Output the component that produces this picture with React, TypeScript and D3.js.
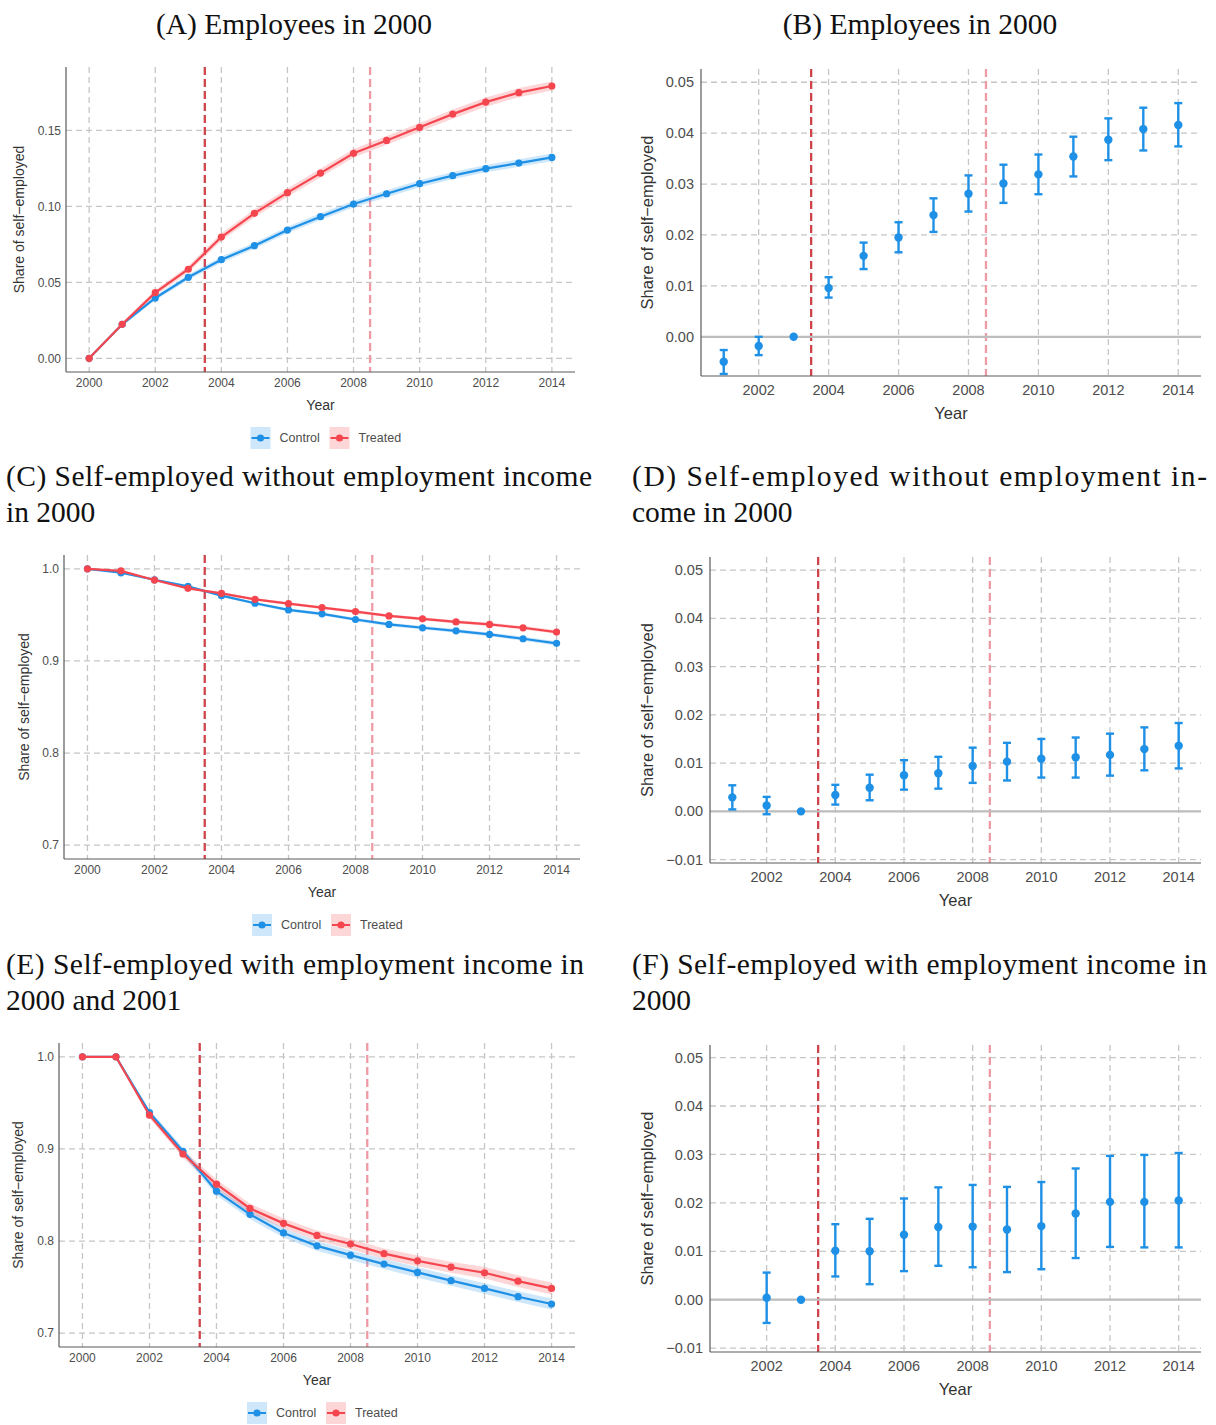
import React from 'react';
import * as d3 from 'd3';

// years on the x axis
const YEARS = [2000, 2001, 2002, 2003, 2004, 2005, 2006, 2007, 2008, 2009, 2010, 2011, 2012, 2013, 2014];
const EVENT_YEARS = [2001, 2002, 2003, 2004, 2005, 2006, 2007, 2008, 2009, 2010, 2011, 2012, 2013, 2014];
const F_YEARS = [2002, 2003, 2004, 2005, 2006, 2007, 2008, 2009, 2010, 2011, 2012, 2013, 2014];
const REFORM_LINES = [2003.5, 2008.5];

// (A) Employees in 2000 - raw shares
const aControl = [0, 0.0224, 0.0397, 0.0533, 0.0649, 0.0741, 0.0844, 0.0932, 0.1015, 0.1083, 0.1149, 0.1202, 0.1248, 0.1285, 0.1322];
const aTreated = [0, 0.0224, 0.0432, 0.0586, 0.0798, 0.0954, 0.109, 0.1219, 0.1349, 0.1434, 0.152, 0.1607, 0.1686, 0.1748, 0.1792];
const aControlBand = [0, 0.001, 0.0015, 0.0018, 0.002, 0.002, 0.0021, 0.0022, 0.0022, 0.0023, 0.0023, 0.0024, 0.0024, 0.0025, 0.0025];
const aTreatedBand = [0, 0.0012, 0.0018, 0.0021, 0.0025, 0.0026, 0.0027, 0.0028, 0.0028, 0.0029, 0.0029, 0.003, 0.003, 0.003, 0.003];

// (C) Self-employed without employment income in 2000
const cControl = [1, 0.9957, 0.9881, 0.9809, 0.9709, 0.9626, 0.9554, 0.9511, 0.945, 0.9396, 0.936, 0.9327, 0.9288, 0.9241, 0.9191];
const cTreated = [1, 0.9978, 0.9878, 0.9788, 0.9734, 0.9669, 0.9622, 0.9579, 0.9536, 0.9489, 0.9457, 0.9424, 0.9396, 0.936, 0.9313];
const cControlBand = [0, 0.0008, 0.001, 0.0012, 0.0014, 0.0015, 0.0016, 0.0017, 0.0018, 0.0019, 0.002, 0.002, 0.0021, 0.0022, 0.0023];
const cTreatedBand = [0, 0.0007, 0.0009, 0.0011, 0.0012, 0.0013, 0.0014, 0.0015, 0.0016, 0.0016, 0.0017, 0.0017, 0.0018, 0.0018, 0.0019];

// (E) Self-employed with employment income in 2000 and 2001
const eControl = [1, 1, 0.9395, 0.8974, 0.8542, 0.829, 0.8088, 0.7948, 0.7847, 0.775, 0.766, 0.757, 0.7486, 0.7396, 0.7317];
const eTreated = [1, 1, 0.9366, 0.8945, 0.8617, 0.8354, 0.8192, 0.8061, 0.7968, 0.7863, 0.7785, 0.7716, 0.7656, 0.7565, 0.7486];
const eControlBand = [0, 0, 0.003, 0.004, 0.0045, 0.005, 0.005, 0.0052, 0.0053, 0.0054, 0.0055, 0.0056, 0.0057, 0.0058, 0.006];
const eTreatedBand = [0, 0, 0.003, 0.004, 0.005, 0.0052, 0.0054, 0.0055, 0.0056, 0.0057, 0.0058, 0.006, 0.0062, 0.0063, 0.0065];

// (B) event study, employees
const bEst = [-0.0049, -0.0018, 0, 0.0096, 0.0159, 0.0195, 0.0239, 0.0281, 0.0301, 0.0319, 0.0354, 0.0387, 0.0408, 0.0416];
const bLo = [-0.0073, -0.0036, 0, 0.0077, 0.0133, 0.0166, 0.0206, 0.0246, 0.0263, 0.028, 0.0315, 0.0347, 0.0366, 0.0374];
const bHi = [-0.0026, 0, 0, 0.0117, 0.0185, 0.0225, 0.0272, 0.0317, 0.0338, 0.0358, 0.0393, 0.0429, 0.045, 0.0459];

// (D) event study, without employment income
const dEst = [0.0029, 0.0012, 0, 0.0034, 0.0049, 0.0075, 0.0079, 0.0094, 0.0103, 0.0109, 0.0112, 0.0117, 0.0129, 0.0136];
const dLo = [0.0004, -0.0006, 0, 0.0014, 0.0023, 0.0045, 0.0047, 0.0059, 0.0064, 0.007, 0.007, 0.0074, 0.0085, 0.0089];
const dHi = [0.0054, 0.003, 0, 0.0055, 0.0076, 0.0106, 0.0113, 0.0132, 0.0142, 0.015, 0.0153, 0.0161, 0.0174, 0.0183];

// (F) event study, with employment income
const fEst = [0.0004, 0, 0.0101, 0.01, 0.0134, 0.015, 0.0151, 0.0145, 0.0152, 0.0178, 0.0202, 0.0202, 0.0205];
const fLo = [-0.0048, 0, 0.0048, 0.0032, 0.0059, 0.007, 0.0067, 0.0057, 0.0063, 0.0086, 0.0109, 0.0108, 0.0108];
const fHi = [0.0056, 0, 0.0156, 0.0167, 0.0209, 0.0232, 0.0237, 0.0233, 0.0243, 0.0271, 0.0297, 0.0299, 0.0303];

const levelTicks = [0.7, 0.8, 0.9, 1.0];
const aTicks = [0, 0.05, 0.1, 0.15];
const bTicks = [0, 0.01, 0.02, 0.03, 0.04, 0.05];
const dfTicks = [-0.01, 0, 0.01, 0.02, 0.03, 0.04, 0.05];

const BLUE = '#1E90E6';
const RED = '#F5464F';
const SANS = '"Liberation Sans", Arial, sans-serif';
const SERIF = '"Liberation Serif", "DejaVu Serif", serif';

type Box = { left: number; right: number; top: number; bottom: number };

const fmtNum = (d: number, digits: number) => {
  const s = Math.abs(d).toFixed(digits);
  return d < -1e-9 ? '\u2212' + s : s;
};

function Frame(props: {
  box: Box; x: d3.ScaleLinear<number, number>; y: d3.ScaleLinear<number, number>;
  xTicks: number[]; yTicks: number[]; digits: number; big: boolean; yTitleX: number;
  children?: React.ReactNode;
}) {
  const { box, x, y, xTicks, yTicks, digits, big, yTitleX } = props;
  const tickSize = big ? 14.5 : 12;
  const titleSize = big ? 16.5 : 14;
  const cx = (box.left + box.right) / 2;
  const cy = (box.top + box.bottom) / 2;
  return (
    <g>
      {xTicks.map(t => (
        <line key={'gx' + t} x1={x(t)} x2={x(t)} y1={box.top} y2={box.bottom}
          stroke="#c6c6c6" strokeWidth={1.3} strokeDasharray="6,4" />
      ))}
      {yTicks.map(t => (
        <line key={'gy' + t} x1={box.left} x2={box.right} y1={y(t)} y2={y(t)}
          stroke="#c6c6c6" strokeWidth={1.3} strokeDasharray="6,4" />
      ))}
      {REFORM_LINES.map((v, i) => (
        <line key={'v' + v} x1={x(v)} x2={x(v)} y1={box.top} y2={box.bottom}
          stroke={i === 0 ? '#D0434B' : '#EE9AA5'} strokeWidth={2.3} strokeDasharray="8,4" />
      ))}
      {props.children}
      <line x1={box.left} x2={box.left} y1={box.top} y2={box.bottom} stroke="#5a5a5a" strokeWidth={1.2} />
      <line x1={box.left} x2={box.right} y1={box.bottom} y2={box.bottom} stroke="#5a5a5a" strokeWidth={1.2} />
      {yTicks.map(t => (
        <text key={'ty' + t} x={box.left - (big ? 7 : 5)} y={y(t)} dy="0.35em" textAnchor="end"
          fontFamily={SANS} fontSize={tickSize} fill="#4d4d4d">{fmtNum(t, digits)}</text>
      ))}
      {xTicks.map(t => (
        <text key={'tx' + t} x={x(t)} y={box.bottom + (big ? 14 : 11)} dy="0.35em" textAnchor="middle"
          fontFamily={SANS} fontSize={tickSize} fill="#4d4d4d">{t}</text>
      ))}
      <text x={cx} y={box.bottom + (big ? 37 : 33)} dy="0.35em" textAnchor="middle"
        fontFamily={SANS} fontSize={titleSize} fill="#333">Year</text>
      <text transform={`translate(${yTitleX},${cy}) rotate(-90)`} dy="0.35em" textAnchor="middle"
        fontFamily={SANS} fontSize={titleSize} fill="#333">Share of self{'\u2212'}employed</text>
    </g>
  );
}

function TrendPanel(props: {
  box: Box; yDomain: [number, number]; yTicks: number[]; digits: number; yTitleX: number;
  control: number[]; treated: number[]; controlBand: number[]; treatedBand: number[];
}) {
  const { box, yDomain, yTicks, digits, yTitleX } = props;
  const x = d3.scaleLinear().domain([1999.3, 2014.7]).range([box.left, box.right]);
  const y = d3.scaleLinear().domain(yDomain).range([box.bottom, box.top]);
  const series = [
    { vals: props.control, band: props.controlBand, color: BLUE, label: 'Control' },
    { vals: props.treated, band: props.treatedBand, color: RED, label: 'Treated' },
  ];
  const line = d3.line<number>().x((_, i) => x(YEARS[i])).y(d => y(d));
  const cx = (box.left + box.right) / 2;
  const legY = box.bottom + 66;
  const legX = cx - 70;
  return (
    <g>
      <Frame box={box} x={x} y={y} xTicks={[2000, 2002, 2004, 2006, 2008, 2010, 2012, 2014]}
        yTicks={yTicks} digits={digits} big={false} yTitleX={yTitleX}>
        {series.map(s => {
          const area = d3.area<number>()
            .x((_, i) => x(YEARS[i]))
            .y0((d, i) => y(d - s.band[i]))
            .y1((d, i) => y(d + s.band[i]));
          return <path key={'b' + s.label} d={area(s.vals) || ''} fill={s.color} fillOpacity={0.22} />;
        })}
        {series.map(s => (
          <g key={'l' + s.label}>
            <path d={line(s.vals) || ''} fill="none" stroke={s.color} strokeWidth={2.2} />
            {s.vals.map((v, i) => (
              <circle key={i} cx={x(YEARS[i])} cy={y(v)} r={3.6} fill={s.color} />
            ))}
          </g>
        ))}
      </Frame>
      {series.map((s, i) => {
        const x0 = legX + i * 79;
        return (
          <g key={'lg' + s.label}>
            <rect x={x0} y={legY - 11} width={20} height={22} fill={s.color} fillOpacity={0.22} />
            <line x1={x0 + 1} x2={x0 + 19} y1={legY} y2={legY} stroke={s.color} strokeWidth={2} />
            <circle cx={x0 + 10} cy={legY} r={3.6} fill={s.color} />
            <text x={x0 + 29} y={legY} dy="0.35em" fontFamily={SANS} fontSize={12.5} fill="#4d4d4d">{s.label}</text>
          </g>
        );
      })}
    </g>
  );
}

function EventPanel(props: {
  box: Box; years: number[]; est: number[]; lo: number[]; hi: number[]; yDomain: [number, number]; yTicks: number[];
  yTitleX: number;
}) {
  const { box, years, est, lo, hi, yDomain, yTicks, yTitleX } = props;
  const x = d3.scaleLinear().domain([2000.35, 2014.65]).range([box.left, box.right]);
  const y = d3.scaleLinear().domain(yDomain).range([box.bottom, box.top]);
  return (
    <Frame box={box} x={x} y={y} xTicks={[2002, 2004, 2006, 2008, 2010, 2012, 2014]}
      yTicks={yTicks} digits={2} big={true} yTitleX={yTitleX}>
      <line x1={box.left} x2={box.right} y1={y(0)} y2={y(0)} stroke="#bdbdbd" strokeWidth={2.2} />
      {years.map((yr, i) => (
        <g key={yr}>
          {hi[i] !== lo[i] && (
            <g stroke={BLUE} strokeWidth={2.4}>
              <line x1={x(yr)} x2={x(yr)} y1={y(lo[i])} y2={y(hi[i])} />
              <line x1={x(yr) - 4} x2={x(yr) + 4} y1={y(lo[i])} y2={y(lo[i])} />
              <line x1={x(yr) - 4} x2={x(yr) + 4} y1={y(hi[i])} y2={y(hi[i])} />
            </g>
          )}
          <circle cx={x(yr)} cy={y(est[i])} r={4.2} fill={BLUE} />
        </g>
      ))}
    </Frame>
  );
}

function Title(props: { lines: { text: string; x: number; y: number; width?: number; anchor?: string }[] }) {
  return (
    <g>
      {props.lines.map((l, i) => (
        <text key={i} x={l.x} y={l.y} textAnchor={l.anchor || 'start'} fontFamily={SERIF} fontSize={29.5} fill="#111"
          {...(l.width ? { textLength: l.width, lengthAdjust: 'spacing' } : {})}>{l.text}</text>
      ))}
    </g>
  );
}

export default function App() {
  return (
    <svg width={1216} height={1425} style={{ position: 'absolute', left: 0, top: 0, background: '#fff' }}>
      <Title lines={[{ text: '(A) Employees in 2000', x: 294, y: 34, anchor: 'middle' }]} />
      <Title lines={[{ text: '(B) Employees in 2000', x: 920, y: 34, anchor: 'middle' }]} />
      <Title lines={[
        { text: '(C) Self-employed without employment income', x: 6, y: 486, width: 586 },
        { text: 'in 2000', x: 6, y: 522 },
      ]} />
      <Title lines={[
        { text: '(D) Self-employed without employment in-', x: 632, y: 486, width: 575 },
        { text: 'come in 2000', x: 632, y: 522 },
      ]} />
      <Title lines={[
        { text: '(E) Self-employed with employment income in', x: 6, y: 974, width: 578 },
        { text: '2000 and 2001', x: 6, y: 1010 },
      ]} />
      <Title lines={[
        { text: '(F) Self-employed with employment income in', x: 632, y: 974, width: 575 },
        { text: '2000', x: 632, y: 1010 },
      ]} />

      <TrendPanel box={{ left: 66, right: 575, top: 67, bottom: 372 }} yDomain={[-0.009, 0.1917]} yTicks={aTicks}
        digits={2} yTitleX={19} control={aControl} treated={aTreated} controlBand={aControlBand} treatedBand={aTreatedBand} />
      <TrendPanel box={{ left: 64, right: 580, top: 555, bottom: 859 }} yDomain={[0.685, 1.015]} yTicks={levelTicks}
        digits={1} yTitleX={24} control={cControl} treated={cTreated} controlBand={cControlBand} treatedBand={cTreatedBand} />
      <TrendPanel box={{ left: 59, right: 575, top: 1043, bottom: 1347 }} yDomain={[0.685, 1.015]} yTicks={levelTicks}
        digits={1} yTitleX={18} control={eControl} treated={eTreated} controlBand={eControlBand} treatedBand={eTreatedBand} />

      <EventPanel box={{ left: 701, right: 1201, top: 69, bottom: 376 }} years={EVENT_YEARS} est={bEst} lo={bLo} hi={bHi}
        yDomain={[-0.0077, 0.0526]} yTicks={bTicks} yTitleX={647} />
      <EventPanel box={{ left: 710, right: 1201, top: 557, bottom: 863 }} years={EVENT_YEARS} est={dEst} lo={dLo} hi={dHi}
        yDomain={[-0.0107, 0.0527]} yTicks={dfTicks} yTitleX={647} />
      <EventPanel box={{ left: 710, right: 1201, top: 1045, bottom: 1352 }} years={F_YEARS} est={fEst} lo={fLo} hi={fHi}
        yDomain={[-0.0108, 0.0526]} yTicks={dfTicks} yTitleX={647} />
    </svg>
  );
}
